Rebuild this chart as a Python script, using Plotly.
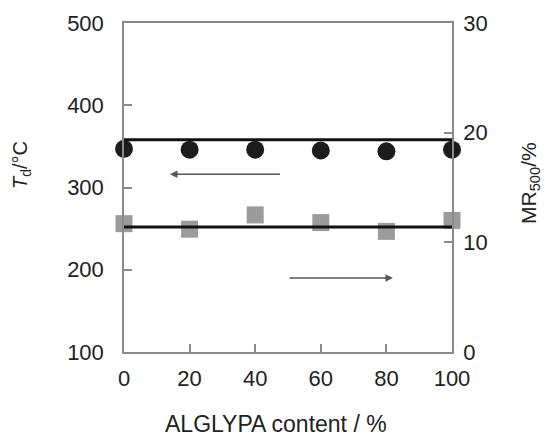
import plotly.graph_objects as go

content = [0, 20, 40, 60, 80, 100]
td = [347, 346, 346, 345, 344, 346]
mr500 = [11.7, 11.2, 12.5, 11.8, 11.0, 12.0]
td_level = 358
mr_level = 11.4
x_ticks = [0, 20, 40, 60, 80, 100]
y_ticks = [100, 200, 300, 400, 500]
y2_ticks = [0, 10, 20, 30]

FONT = "Liberation Sans, Arial, Helvetica, sans-serif"
AX = "#8a8a8a"
TXT = "#222222"

fig = go.Figure()

fig.add_trace(go.Scatter(
    x=content, y=mr500, yaxis="y2", mode="markers",
    marker=dict(symbol="square", size=17, color="#9b9b9b"),
    cliponaxis=False, showlegend=False))
fig.add_trace(go.Scatter(
    x=content, y=td, mode="markers",
    marker=dict(symbol="circle", size=18, color="#1c1c1c"),
    cliponaxis=False, showlegend=False))
fig.add_trace(go.Scatter(
    x=[content[0], content[-1]], y=[td_level, td_level], mode="lines",
    line=dict(color="#111111", width=3), cliponaxis=False, showlegend=False))
fig.add_trace(go.Scatter(
    x=[content[0], content[-1]], y=[mr_level, mr_level], yaxis="y2", mode="lines",
    line=dict(color="#111111", width=3), cliponaxis=False, showlegend=False))

def axis_common(standoff):
    return dict(
        showline=True, linecolor=AX, linewidth=1.5,
        ticks="inside", ticklen=8, tickwidth=1.5, tickcolor=AX,
        showgrid=False, zeroline=False, ticklabelstandoff=standoff,
        tickfont=dict(family=FONT, size=22, color=TXT),
    )

fig.update_layout(
    width=545, height=439,
    margin=dict(l=124, r=93, t=23, b=87),
    paper_bgcolor="white", plot_bgcolor="white",
    font=dict(family=FONT, color=TXT),
    xaxis=dict(range=[0, 100], tickvals=x_ticks, mirror=True, **axis_common(6)),
    yaxis=dict(range=[100, 500], tickvals=y_ticks, **axis_common(14)),
    yaxis2=dict(range=[0, 30], tickvals=y2_ticks, overlaying="y", side="right",
                **axis_common(5)),
    annotations=[
        dict(x=14, y=316, ax=48, ay=316, xref="x", yref="y", axref="x", ayref="y",
             showarrow=True, arrowhead=2, arrowsize=1, arrowwidth=1.5,
             arrowcolor="#555555", text=""),
        dict(x=82, y=190, ax=50, ay=190, xref="x", yref="y", axref="x", ayref="y",
             showarrow=True, arrowhead=2, arrowsize=1, arrowwidth=1.5,
             arrowcolor="#555555", text=""),
    ],
)

plot_w = 545 - 124 - 93
plot_h = 439 - 23 - 87

def px_to_paper(px, py):
    return (px - 124) / plot_w, (439 - 87 - py) / plot_h

xt, yt = px_to_paper(276, 424)
fig.add_annotation(x=xt, y=yt, xref="paper", yref="paper", showarrow=False,
                   xanchor="center", yanchor="middle",
                   text="ALGLYPA content / %", font=dict(family=FONT, size=23, color=TXT))
lx, ly = px_to_paper(21, 165)
fig.add_annotation(x=lx, y=ly, xref="paper", yref="paper", showarrow=False, textangle=-90,
                   xanchor="center", yanchor="middle",
                   text="<i>T</i><sub>d</sub>/°C", font=dict(family=FONT, size=20, color=TXT))
rx, ry = px_to_paper(530, 183)
fig.add_annotation(x=rx, y=ry, xref="paper", yref="paper", showarrow=False, textangle=-90,
                   xanchor="center", yanchor="middle",
                   text="MR<sub>500</sub>/%", font=dict(family=FONT, size=21, color=TXT))

fig.write_html("out.html")
